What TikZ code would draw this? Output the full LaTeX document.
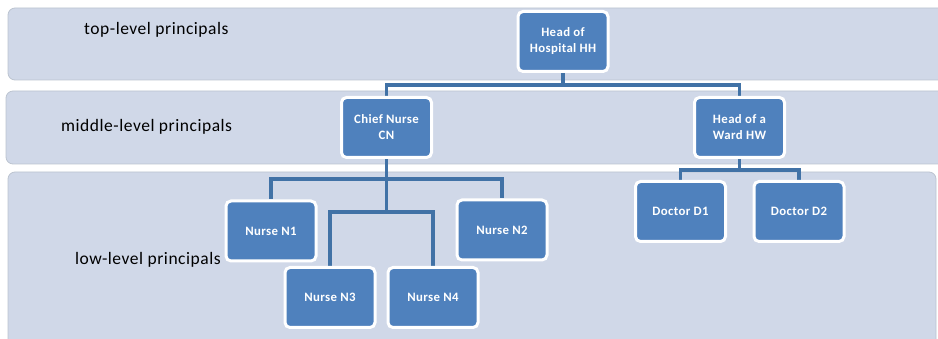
\documentclass[tikz,border=0pt]{standalone}
\usepackage{fontspec}
\setmainfont{Carlito}
\definecolor{bandfill}{HTML}{D0D8E8}
\definecolor{bandline}{HTML}{BCC4D0}
\definecolor{unitblue}{HTML}{4F81BD}
\definecolor{linkblue}{HTML}{4172A6}
\pgfdeclarelayer{bands}
\pgfdeclarelayer{links}
\pgfsetlayers{bands,links,main}
\begin{document}
\begin{tikzpicture}[x=1pt,y=-1pt,
  band/.style={fill=bandfill, draw=bandline, line width=0.8pt, rounded corners=7pt},
  levellabel/.style={anchor=west, inner sep=0pt,
    font=\fontsize{17.5}{20}\selectfont\addfontfeatures{LetterSpace=3}},
  unit/.style={draw=white, line width=3pt, fill=unitblue, rounded corners=5pt,
    minimum width=90pt, minimum height=60pt, inner sep=0pt, align=center,
    text=white, font=\bfseries\fontsize{12.8}{16}\selectfont\addfontfeatures{LetterSpace=3}},
  link/.style={draw=linkblue, line width=3.5pt}
]
\useasboundingbox (0,0) rectangle (938,339);
\clip (0,0) rectangle (938,339);

% level bands
\begin{pgfonlayer}{bands}
\path[band] (8,8) rectangle (950,80);
\path[band] (6,91) rectangle (950,164);
\path[band] (8,172) rectangle (936,360);
\end{pgfonlayer}

% level labels
\node[levellabel] (ltop) at (84,30) {top-level principals};
\node[levellabel] (lmid) at (61,127) {middle-level principals};
\node[levellabel] (llow) at (75,260) {low-level principals};

% units
\node[unit] (hh) at (563,41.5) {Head of\\Hospital HH};
\node[unit] (cn) at (386.5,127.5) {Chief Nurse\\CN};
\node[unit] (hw) at (739.5,127.5) {Head of a\\Ward HW};
\node[unit] (n1) at (271,231) {Nurse N1};
\node[unit] (n2) at (502,230) {Nurse N2};
\node[unit] (n3) at (330,297.5) {Nurse N3};
\node[unit] (n4) at (433,297.5) {Nurse N4};
\node[unit] (d1) at (680.5,211.5) {Doctor D1};
\node[unit] (d2) at (799,211.5) {Doctor D2};

% bus heights
\coordinate (topbus) at (0,85);
\coordinate (nursebus) at (0,179);
\coordinate (lowbus) at (0,212);
\coordinate (docbus) at (0,170);

% connectors, beneath the units
\begin{pgfonlayer}{links}
\path[link] (hh.south) -- (hh.south |- topbus);
\path[link] (cn.north) -- (cn.north |- topbus) -- (hw.north |- topbus) -- (hw.north);
\path[link] (cn.south) -- (cn.south |- lowbus);
\path[link] (n1.north) -- (n1.north |- nursebus) -- (n2.north |- nursebus) -- (n2.north);
\path[link] (n3.north) -- (n3.north |- lowbus) -- (n4.north |- lowbus) -- (n4.north);
\path[link] (hw.south) -- (hw.south |- docbus);
\path[link] (d1.north) -- (d1.north |- docbus) -- (d2.north |- docbus) -- (d2.north);
\end{pgfonlayer}
\end{tikzpicture}
\end{document}
